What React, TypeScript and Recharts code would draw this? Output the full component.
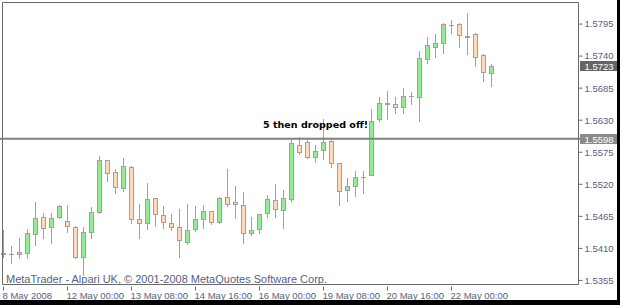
import { ComposedChart, Bar, XAxis, YAxis, ReferenceLine, ReferenceDot, Customized } from 'recharts';

// GBPUSD-like H4 candles
const opens = [
  1.5401, 1.54, 1.5401, 1.5402, 1.5435, 1.5464, 1.5447, 1.5464, 1.5457, 1.5447,
  1.5395, 1.5438, 1.5472, 1.5562, 1.5541, 1.5514, 1.555, 1.546, 1.5453, 1.5496,
  1.5467, 1.5453, 1.5447, 1.5421, 1.5443, 1.546, 1.5474, 1.5455, 1.5498, 1.5489,
  1.5484, 1.5436, 1.5443, 1.5471, 1.5493, 1.5476, 1.5495, 1.5587, 1.5593, 1.5567,
  1.5579, 1.5594, 1.5556, 1.551, 1.5517, 1.5532, 1.5536, 1.5632, 1.5659, 1.5658,
  1.5652, 1.5671, 1.567, 1.5735, 1.5755, 1.5762, 1.5793, 1.5795, 1.5774, 1.5778,
  1.5742, 1.5711,
];
const highs = [
  1.5441, 1.5414, 1.5428, 1.5443, 1.5489, 1.5471, 1.5471, 1.5484, 1.5484, 1.5448,
  1.5447, 1.5481, 1.5569, 1.5562, 1.5546, 1.5565, 1.5551, 1.5486, 1.5522, 1.5496,
  1.5483, 1.5469, 1.5477, 1.5486, 1.5483, 1.5484, 1.5474, 1.5498, 1.5546, 1.5517,
  1.5507, 1.5464, 1.5469, 1.5502, 1.552, 1.551, 1.5599, 1.5601, 1.5596, 1.5587,
  1.5632, 1.5596, 1.5556, 1.5531, 1.5543, 1.5543, 1.5649, 1.567, 1.568, 1.567,
  1.5685, 1.5678, 1.5749, 1.5773, 1.5778, 1.5797, 1.5802, 1.5797, 1.5814, 1.578,
  1.5744, 1.5726,
];
const lows = [
  1.5395, 1.5385, 1.5394, 1.5394, 1.5416, 1.5428, 1.5419, 1.5462, 1.5438, 1.5394,
  1.5364, 1.5428, 1.5471, 1.5526, 1.5505, 1.5508, 1.5453, 1.5428, 1.5443, 1.5448,
  1.5445, 1.5441, 1.5395, 1.5417, 1.544, 1.5445, 1.5452, 1.5453, 1.5483, 1.5462,
  1.5419, 1.5433, 1.5436, 1.5464, 1.5464, 1.5445, 1.5491, 1.5572, 1.5565, 1.5558,
  1.5563, 1.555, 1.5484, 1.5491, 1.55, 1.5505, 1.5536, 1.5628, 1.5632, 1.5642,
  1.5642, 1.5658, 1.5628, 1.5728, 1.5738, 1.5745, 1.578, 1.5755, 1.5744, 1.5723,
  1.5697, 1.5689,
];
const closes = [
  1.5402, 1.5401, 1.5403, 1.5436, 1.5462, 1.5445, 1.5462, 1.5483, 1.5448, 1.5395,
  1.5438, 1.5472, 1.5562, 1.5539, 1.5515, 1.5551, 1.546, 1.5453, 1.5495, 1.5469,
  1.5455, 1.5447, 1.5424, 1.5441, 1.546, 1.5474, 1.5455, 1.5496, 1.5486, 1.5486,
  1.5436, 1.5441, 1.5469, 1.5495, 1.5477, 1.5496, 1.5591, 1.5576, 1.5567, 1.5577,
  1.5593, 1.5556, 1.5508, 1.5517, 1.5532, 1.5533, 1.5628, 1.5659, 1.5658, 1.5652,
  1.5671, 1.5671, 1.5737, 1.5759, 1.5762, 1.5795, 1.5793, 1.5776, 1.5773, 1.5738,
  1.5713, 1.5723,
];

// chart shift: empty slots to the right of the last bar
const slotCount = 72;
const timeTicks = [0, 8, 16, 24, 32, 40, 48, 56];
const timeLabels = [
  '8 May 2008', '12 May 00:00', '13 May 08:00', '14 May 16:00',
  '16 May 00:00', '19 May 08:00', '20 May 16:00', '22 May 00:00',
];
const priceTicks = [1.5355, 1.541, 1.5465, 1.552, 1.5575, 1.563, 1.5685, 1.574, 1.5795];
const levelPrice = 1.5598;
const bidPrice = 1.5723;
const noteSlot = 39;
const noteText = '5 then dropped off!';
const copyright = 'MetaTrader - Alpari UK, \u00a9 2001-2008 MetaQuotes Software Corp.';

const data = Array.from({ length: slotCount }, (_, i) => ({
  slot: i,
  open: opens[i],
  high: highs[i],
  low: lows[i],
  close: closes[i],
}));

const axisFont = '"Liberation Sans", Arial, sans-serif';
const textColor = '#59617a';
const frameColor = '#6a6a6a';

function Candle(props: any) {
  const { x, y, width, height, payload } = props;
  if (!payload || payload.high == null) return null;
  const { open, high, low, close } = payload;
  const yTop = Math.min(y, y + height);
  const yBot = Math.max(y, y + height);
  const k = (yBot - yTop) / (high - low);
  const cx = Math.round(x + width / 2) + 0.5;
  const yo = Math.round(yTop + (high - open) * k) + 0.5;
  const yc = Math.round(yTop + (high - close) * k) + 0.5;
  const top = Math.min(yo, yc);
  const bottom = Math.max(yo, yc);
  const up = close > open;
  return (
    <g>
      <line x1={cx} x2={cx} y1={Math.round(yTop)} y2={Math.round(yBot) + 1} stroke="#a0a0a0" />
      {bottom - top < 1 ? (
        <line x1={cx - 2.5} x2={cx + 2.5} y1={top} y2={top} stroke="#a0a0a0" />
      ) : (
        <rect
          x={cx - 2}
          y={top}
          width={4}
          height={bottom - top}
          fill={up ? '#90ee90' : '#ffdab9'}
          stroke="#a0a0a0"
        />
      )}
    </g>
  );
}

function TimeTick(props: any) {
  const { x, y, payload } = props;
  const idx = timeTicks.indexOf(payload.value);
  const tx = Math.round(x) + 0.5;
  return (
    <g>
      <line x1={tx} x2={tx} y1={y - 4} y2={y} stroke={frameColor} />
      <text x={Math.round(x) - 0.5} y={y + 8.5} fill={textColor} fontSize={9.5} fontFamily={axisFont}>
        {idx >= 0 ? timeLabels[idx] : ''}
      </text>
    </g>
  );
}

function priceTag(text: string, bg: string, withLine: boolean) {
  return (props: any) => {
    const { viewBox } = props;
    if (!viewBox) return null;
    const right = viewBox.x + viewBox.width;
    const cy = Math.round(viewBox.y);
    return (
      <g>
        {withLine && <line x1={0} x2={viewBox.x} y1={viewBox.y} y2={viewBox.y} stroke="#808080" strokeWidth={2} />}
        {withLine && <line x1={right} x2={right + 2} y1={viewBox.y} y2={viewBox.y} stroke="#808080" strokeWidth={2} />}
        <rect x={right + 1.5} y={cy - 5} width={37} height={10} fill={bg} />
        <text x={right + 6} y={cy + 3.5} fill="#ffffff" fontSize={9.5} fontFamily={axisFont}>
          {text}
        </text>
      </g>
    );
  };
}

function NoteLabel(props: any) {
  const { viewBox } = props;
  if (!viewBox) return null;
  const cx = viewBox.x + viewBox.width / 2;
  const cy = viewBox.y + viewBox.height / 2;
  return (
    <text
      x={cx + 0.5}
      y={cy - 10.5}
      textAnchor="middle"
      fill="#000000"
      fontSize={9}
      fontWeight="bold"
      fontFamily='"DejaVu Sans", Verdana, sans-serif'
      textLength={105}
      lengthAdjust="spacingAndGlyphs"
    >
      {noteText}
    </text>
  );
}

function Copyright() {
  return (
    <text
      x={6}
      y={282.5}
      fill={textColor}
      fontSize={10}
      fontFamily={axisFont}
      textLength={321}
      lengthAdjust="spacingAndGlyphs"
    >
      {copyright}
    </text>
  );
}

export default function App() {
  return (
    <div style={{ position: 'absolute', left: 0, top: 0, width: 620, height: 305, background: '#000' }}>
      <ComposedChart
        width={617}
        height={300}
        data={data}
        margin={{ top: 0.5, right: 0, bottom: 0, left: 0.5 }}
        style={{ background: '#ffffff' }}
      >
        <XAxis
          xAxisId="top"
          orientation="top"
          dataKey="slot"
          height={2}
          tick={false}
          tickLine={false}
          axisLine={{ stroke: frameColor }}
        />
        <XAxis
          dataKey="slot"
          type="category"
          height={15.5}
          padding={{ left: -3.5, right: 3.5 }}
          ticks={timeTicks}
          interval={0}
          tick={<TimeTick />}
          tickLine={false}
          tickSize={4}
          axisLine={{ stroke: frameColor }}
        />
        <YAxis yAxisId="frame" orientation="left" width={2} tick={false} tickLine={false} axisLine={{ stroke: frameColor }} />
        <YAxis
          yAxisId="price"
          orientation="right"
          width={38.5}
          type="number"
          domain={[1.5348, 1.5832]}
          allowDataOverflow
          ticks={priceTicks}
          interval={0}
          tickSize={4}
          tickMargin={2}
          tickFormatter={(v: number) => v.toFixed(4)}
          tickLine={{ stroke: frameColor }}
          axisLine={{ stroke: frameColor }}
          tick={{ fill: textColor, fontSize: 9.5, fontFamily: axisFont }}
        />
        <Bar
          yAxisId="price"
          dataKey={(d: any) => (d.high == null ? null : [d.low, d.high])}
          shape={(p: any) => <Candle {...p} />}
          isAnimationActive={false}
        />
        <ReferenceLine
          yAxisId="price"
          y={levelPrice}
          stroke="#808080"
          strokeWidth={2}
          label={priceTag(levelPrice.toFixed(4), '#8a8a8a', true)}
        />
        <ReferenceLine
          yAxisId="price"
          y={bidPrice}
          stroke="none"
          label={priceTag(bidPrice.toFixed(4), '#666666', false)}
        />
        <ReferenceDot
          yAxisId="price"
          x={noteSlot}
          y={levelPrice}
          r={0}
          stroke="none"
          fill="none"
          label={(p: any) => <NoteLabel {...p} />}
        />
        <Customized component={<Copyright />} />
      </ComposedChart>
    </div>
  );
}
